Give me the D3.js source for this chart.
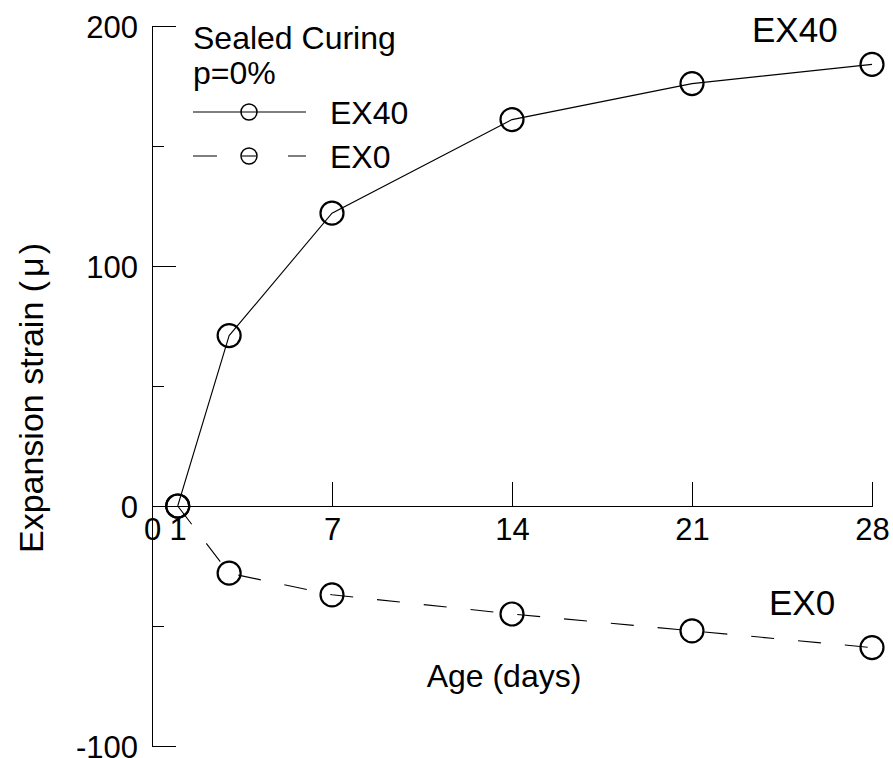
<!DOCTYPE html>
<html>
<head>
<meta charset="utf-8">
<script src="https://cdn.jsdelivr.net/npm/d3@7"></script>
<style>
  body { margin: 0; background: #fff; }
  svg { display: block; font-family: "Liberation Sans", Arial, sans-serif; }
  .axis path, .axis line { stroke: #000; stroke-width: 1.2; shape-rendering: crispEdges; }
  .axis text { font-size: 31px; fill: #000; font-family: "Liberation Sans", Arial, sans-serif; }
</style>
</head>
<body>
<svg id="chart" width="893" height="758"></svg>
<script>
const days = [1, 3, 7, 14, 21, 28];
const ex40 = [0, 71, 122, 161, 176, 184];
const ex0 = [0, -28, -37, -45, -52, -59];
const xTickLabels = [0, 1, 7, 14, 21, 28];
const xTickMarks = [7, 14, 21, 28];
const yMajorTicks = [-100, 0, 100, 200];
const yMinorTicks = [-50, 50, 150];

const svg = d3.select('#chart');

const x = d3.scaleLinear().domain([0, 28]).range([152, 872]);
const y = d3.scaleLinear().domain([-100, 200]).range([746, 26]);

// y axis (plain hyphen for negatives, like the original)
svg.append('g')
  .attr('class', 'axis')
  .attr('transform', `translate(${x(0)},0)`)
  .call(d3.axisLeft(y).tickValues(yMajorTicks).tickFormat(String)
    .tickSizeInner(-24).tickSizeOuter(0).tickPadding(14))
  .call((g) => g.selectAll('text').attr('dy', '0.36em'));

svg.append('g')
  .attr('class', 'axis')
  .attr('transform', `translate(${x(0)},0)`)
  .call(d3.axisLeft(y).tickValues(yMinorTicks).tickSizeInner(-12).tickSizeOuter(0).tickFormat(''))
  .call((g) => g.select('.domain').remove());

// x axis at y = 0
svg.append('g')
  .attr('class', 'axis')
  .attr('transform', `translate(0,${y(0)})`)
  .call(d3.axisBottom(x).tickValues(xTickLabels).tickFormat(String)
    .tickSizeInner(0).tickSizeOuter(0).tickPadding(12))
  .call((g) => g.selectAll('text').attr('dy', '0.71em'));

svg.append('g')
  .attr('class', 'axis')
  .attr('transform', `translate(0,${y(0)})`)
  .call(d3.axisTop(x).tickValues(xTickMarks).tickSizeInner(24).tickSizeOuter(0).tickFormat(''))
  .call((g) => g.select('.domain').remove());

// series
const line = d3.line().x((d) => x(d[0])).y((d) => y(d[1]));
const series = [
  { name: 'EX40', values: ex40, dash: null },
  { name: 'EX0', values: ex0, dash: '23,24' }
];

series.forEach((s) => {
  const pts = days.map((d, i) => [d, s.values[i]]);
  svg.append('path')
    .datum(pts)
    .attr('fill', 'none')
    .attr('stroke', '#000')
    .attr('stroke-width', 1.1)
    .attr('stroke-dasharray', s.dash)
    .attr('d', line);
  svg.append('g')
    .selectAll('circle')
    .data(pts)
    .join('circle')
    .attr('cx', (d) => x(d[0]))
    .attr('cy', (d) => y(d[1]))
    .attr('r', 11.5)
    .attr('fill', 'none')
    .attr('stroke', '#000')
    .attr('stroke-width', 2.2);
});

// series labels
svg.append('text')
  .attr('x', 752).attr('y', 42)
  .attr('font-size', 35)
  .text('EX40');
svg.append('text')
  .attr('x', 769).attr('y', 615)
  .attr('font-size', 35)
  .text('EX0');

// legend
const legend = svg.append('g').attr('font-size', 32);
legend.append('text').attr('x', 193).attr('y', 49).text('Sealed Curing');
legend.append('text').attr('x', 193).attr('y', 84).text('p=0%');

const legendRows = [
  { label: 'EX40', y: 112, dash: null },
  { label: 'EX0', y: 156, dash: '24,71' }
];
legendRows.forEach((r) => {
  legend.append('line')
    .attr('x1', 193).attr('x2', 306)
    .attr('y1', r.y).attr('y2', r.y)
    .attr('stroke', '#000').attr('stroke-width', 1.1)
    .attr('stroke-dasharray', r.dash);
  if (r.dash) {
    legend.append('line')
      .attr('x1', 242).attr('x2', 256)
      .attr('y1', r.y).attr('y2', r.y)
      .attr('stroke', '#000').attr('stroke-width', 1.1);
  }
  legend.append('circle')
    .attr('cx', 249).attr('cy', r.y).attr('r', 8)
    .attr('fill', 'none').attr('stroke', '#000').attr('stroke-width', 1.5);
  legend.append('text')
    .attr('x', 330).attr('y', r.y + 12)
    .text(r.label);
});

// axis titles
svg.append('text')
  .attr('x', 504).attr('y', 687)
  .attr('text-anchor', 'middle')
  .attr('font-size', 32)
  .text('Age (days)');

const yTitle = svg.append('text')
  .attr('transform', 'translate(43,398) rotate(-90)')
  .attr('text-anchor', 'middle')
  .attr('font-size', 34);
yTitle.append('tspan').text('Expansion strain (');
yTitle.append('tspan').attr('dx', 4).text('\u03bc');
yTitle.append('tspan').attr('dx', 3).text(')');
</script>
</body>
</html>
